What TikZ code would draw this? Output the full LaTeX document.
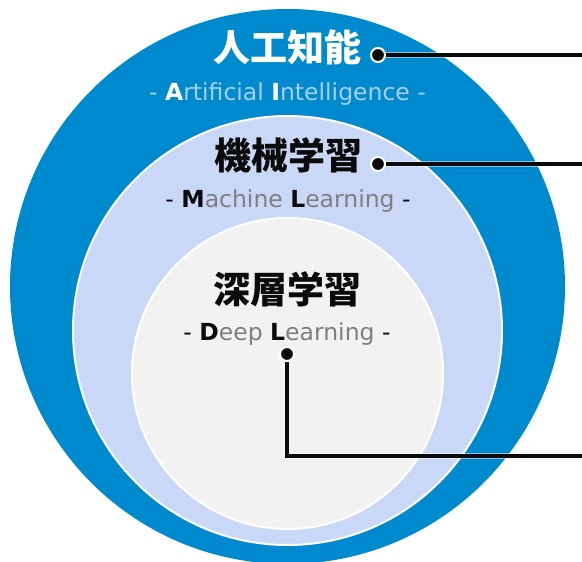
\documentclass[tikz,border=0pt]{standalone}
\usepackage{fontspec}
\setmainfont{DejaVu Sans}
\newfontfamily\jpfont{Noto Sans CJK JP}
\usetikzlibrary{positioning}
\definecolor{ink}{HTML}{0B0B0B}
\definecolor{muted}{HTML}{7F7F7F}
\definecolor{aiblue}{HTML}{008ACE}
\definecolor{aisoft}{HTML}{A9CEF0}
\definecolor{mlfill}{HTML}{CAD8F8}
\definecolor{dlfill}{HTML}{F2F2F2}

% bold first letter of a word
\newcommand{\lead}[1]{{\bfseries #1}}

\begin{document}
\begin{tikzpicture}[
  x=1pt, y=-1pt,
  ring/.style={circle, inner sep=0pt, draw=white, line width=2pt},
  title/.style={font=\jpfont\bfseries\fontsize{37}{40}\selectfont, inner sep=0pt, text=ink},
  subtitle/.style={font=\fontsize{23.5}{26}\selectfont, inner sep=0pt, anchor=base, text=muted},
  dot/.style={circle, fill=ink, draw=white, line width=2pt, minimum size=14pt, inner sep=0pt},
  leader/.style={draw=ink, line width=3.2pt, preaction={draw=white, line width=5.4pt, opacity=.5}}
]
\useasboundingbox (0,0) rectangle (582,562);

% nested circles
\node[ring, draw=none, fill=aiblue, minimum size=555pt] (ai) at (287.5,286.5) {};
\node[ring, fill=mlfill, minimum size=429pt] (ml) at (287.5,330.5) {};
\node[ring, fill=dlfill, minimum size=311pt] (dl) at (287.5,373.5) {};

% artificial intelligence
\node[title, text=white] (aititle) at (287,47) {人工知能};
\node[subtitle, text=aisoft] (aisub) at (287.5,100)
  {- {\color{white}\lead{A}}rtificial {\color{white}\lead{I}}ntelligence -};

% machine learning
\node[title] (mltitle) at (288,155) {機械学習};
\node[subtitle] (mlsub) at (288,207)
  {{\color{ink}-} {\color{ink}\lead{M}}achine {\color{ink}\lead{L}}earning {\color{ink}-}};

% deep learning
\node[title] (dltitle) at (287,289) {深層学習};
\node[subtitle] (dlsub) at (287,340)
  {{\color{ink}-} {\color{ink}\lead{D}}eep {\color{ink}\lead{L}}earning {\color{ink}-}};

% leader lines
\coordinate (aiend) at (582,55);
\coordinate (mlend) at (582,164);
\coordinate (dlend) at (582,456);
\node[dot] (aidot) at (378,55) {};
\node[dot] (mldot) at (378,164) {};
\node[dot] (dldot) at (287,354) {};
\draw[leader] (aidot) -- (aiend);
\draw[leader] (mldot) -- (mlend);
\draw[leader] (dldot) |- (dlend);

\end{tikzpicture}
\end{document}
